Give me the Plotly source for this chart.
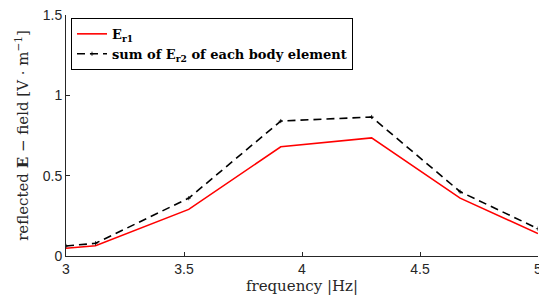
import plotly.graph_objects as go

freq = [3.0, 3.125, 3.52, 3.91, 4.295, 4.67, 5.0]
er1 = [0.048, 0.064, 0.29, 0.68, 0.735, 0.36, 0.14]
er2_sum = [0.0625, 0.079, 0.36, 0.84, 0.865, 0.40, 0.17]

x_ticks = [3, 3.5, 4, 4.5, 5]
x_ticklabels = ["3", "3.5", "4", "4.5", "5"]
y_ticks = [0, 0.5, 1, 1.5]
y_ticklabels = ["0", "0.5", "1", "1.5"]

serif = "DejaVu Serif, serif"
sans = "Liberation Sans, Arial, sans-serif"

fig = go.Figure()
fig.add_trace(go.Scatter(
    x=freq, y=er1, mode="lines", name="<b>E<sub>r1</sub></b>",
    line=dict(color="#ff0000", width=1.6),
))
fig.add_trace(go.Scatter(
    x=freq, y=er2_sum, mode="lines+markers",
    name="<b>sum of E<sub>r2</sub> of each body element</b>",
    line=dict(color="#000000", width=1.6, dash="8px,5px"),
    marker=dict(symbol="cross-thin", size=3, line=dict(color="#000000", width=0.8)),
))

fig.update_layout(
    width=539, height=296,
    margin=dict(l=66, r=1, t=15, b=40),
    plot_bgcolor="white", paper_bgcolor="white",
    showlegend=True,
    legend=dict(
        x=0.0106, y=0.988, xanchor="left", yanchor="top",
        bgcolor="white", bordercolor="#000000", borderwidth=1,
        font=dict(family=serif, size=13, color="#000000"),
        tracegroupgap=0, itemwidth=30,
    ),
    xaxis=dict(
        range=[3, 5], tickvals=x_ticks, ticktext=x_ticklabels,
        showline=True, linecolor="#262626", linewidth=1, mirror=False,
        ticks="inside", ticklen=4, tickcolor="#262626",
        showgrid=False, zeroline=False, automargin=False,
        ticklabeloverflow="allow",
        tickfont=dict(family=sans, size=14, color="#262626"),
        title=dict(text="frequency |Hz|", font=dict(family=serif, size=15, color="#262626"), standoff=3),
    ),
    yaxis=dict(
        range=[0, 1.5], tickvals=y_ticks, ticktext=y_ticklabels,
        showline=True, linecolor="#262626", linewidth=1, mirror=False,
        ticks="inside", ticklen=4, tickcolor="#262626",
        showgrid=False, zeroline=False, automargin=False,
        ticklabeloverflow="allow",
        tickfont=dict(family=sans, size=14, color="#262626"),
        title=dict(text="reflected <b>E</b> − field [V · m<sup>−1</sup>]", font=dict(family=serif, size=15, color="#262626"), standoff=10),
    ),
)

fig.write_html(
    "out.html",
    config={"displayModeBar": False},
    post_script="document.body.style.margin='0px';document.body.style.overflow='hidden';",
)
